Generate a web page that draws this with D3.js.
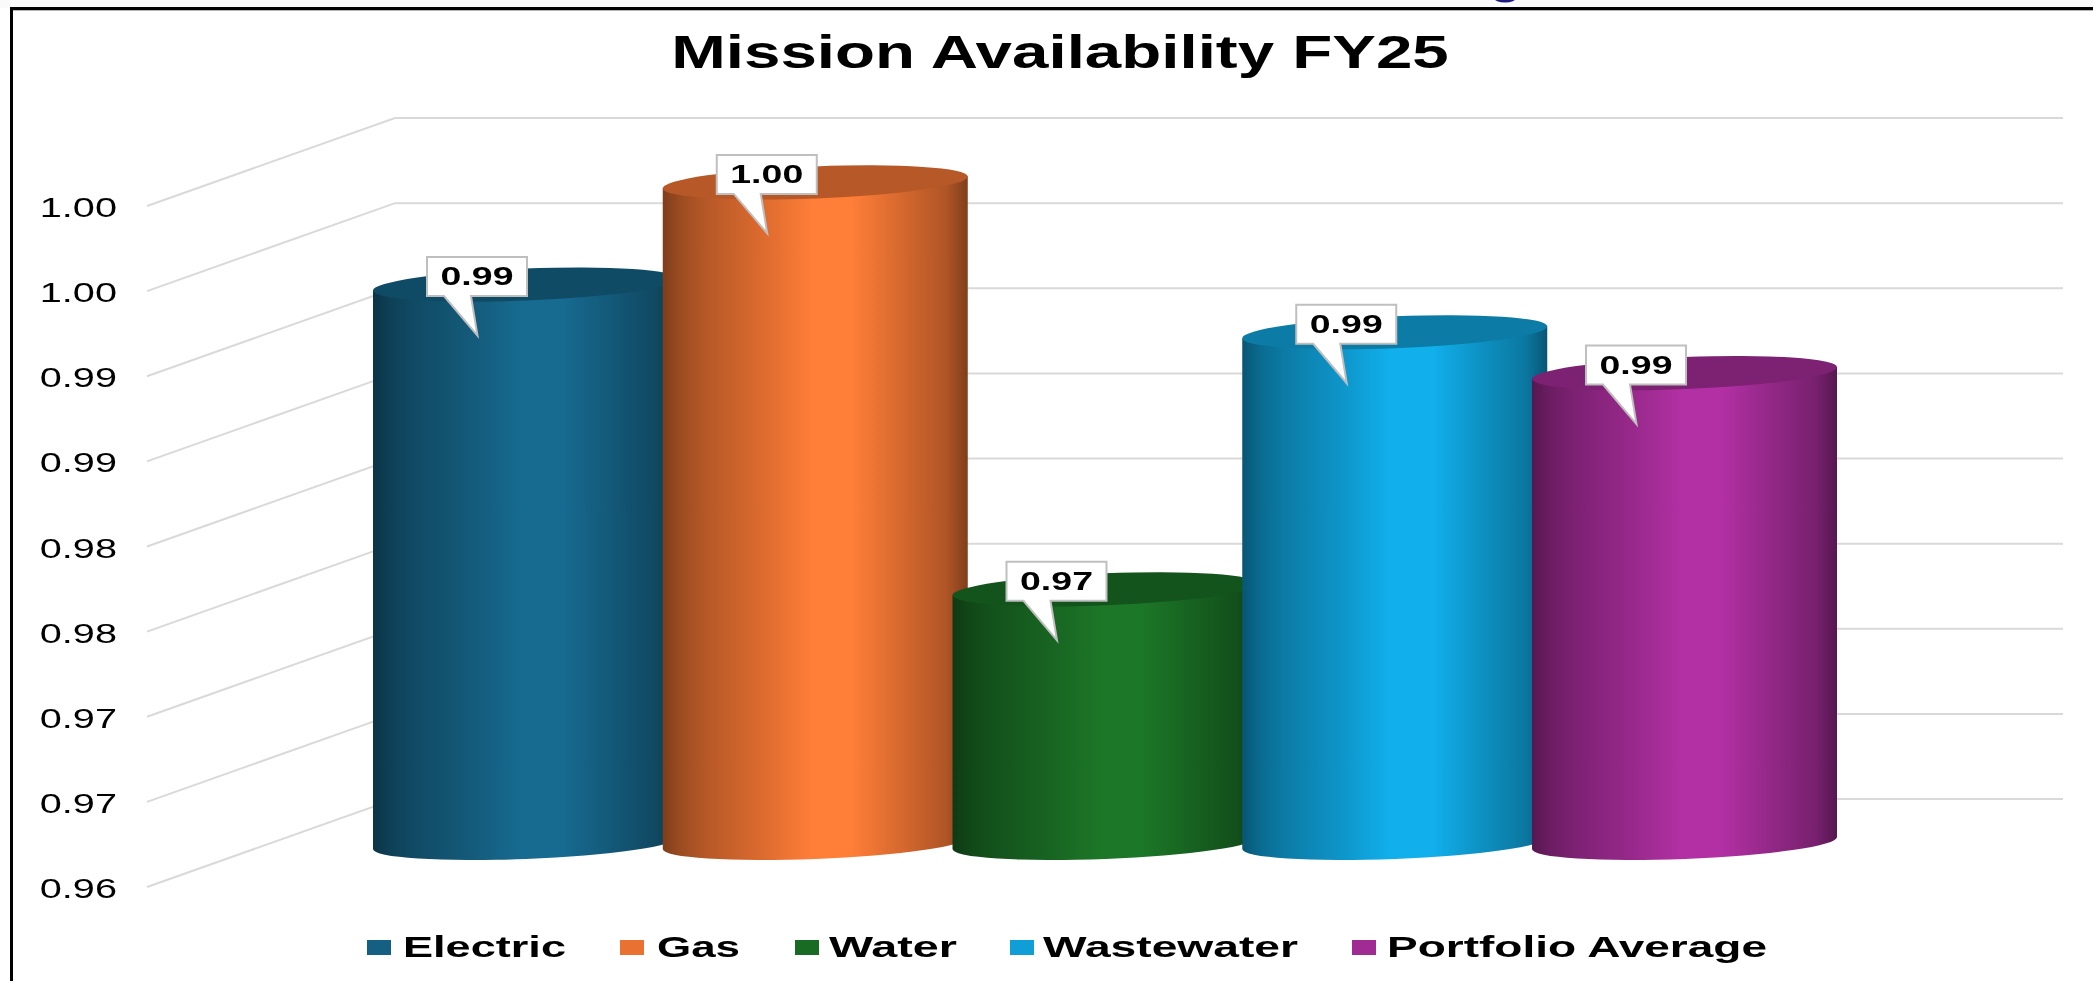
<!DOCTYPE html>
<html>
<head>
<meta charset="utf-8">
<title>Mission Availability FY25</title>
<script src="https://cdn.jsdelivr.net/npm/d3@7/dist/d3.min.js"></script>
<style>
    html, body { margin: 0; padding: 0; background: #ffffff; overflow: hidden; }
    svg { display: block; filter: blur(0.5px); }
    text { font-family: "Liberation Sans", Arial, sans-serif; fill: #000; }
</style>
</head>
<body>
<div id="chart"></div>
<script>
const categories = ["Electric", "Gas", "Water", "Wastewater", "Portfolio Average"];
const values = [0.9928, 0.9988, 0.9749, 0.99, 0.9876];
const valueLabels = ["0.99", "1.00", "0.97", "0.99", "0.99"];
const colors = ["#156082", "#E97132", "#196B24", "#0F9ED5", "#A02B93"];
const tickValues = [0.96, 0.965, 0.97, 0.975, 0.98, 0.985, 0.99, 0.995, 1.0];
const tickLabels = ["0.96", "0.97", "0.97", "0.98", "0.98", "0.99", "0.99", "1.00", "1.00"];
const legendSwatchX = [367, 620, 795, 1010, 1352];
const legendTextX = [403, 657, 829, 1043, 1387];
const legendTextWidths = [163, 83, 128, 255, 380];

const width = 2093, height = 981;
const stretch = 1.47; // the source picture is wider than it is tall, text included

const svg = d3.select("#chart").append("svg")
    .attr("width", width)
    .attr("height", height);

// band above the frame and the cut off heading letter
svg.append("rect").attr("width", width).attr("height", 8).attr("fill", "#fafafa");
svg.append("ellipse")
    .attr("cx", 1505).attr("cy", -2)
    .attr("rx", 11).attr("ry", 4.5)
    .attr("fill", "#1c1c80");

// frame runs off the right and bottom of the picture
svg.append("path")
    .attr("d", `M11.5,${height + 5} V8.5 H${width + 5}`)
    .attr("fill", "none")
    .attr("stroke", "#000")
    .attr("stroke-width", 3);
svg.append("line")
    .attr("x1", 13).attr("x2", width).attr("y1", 10.5).attr("y2", 10.5)
    .attr("stroke", "#b5b5b5");

// scales: front wall, back wall and the plane the cylinders stand in
const yFront = d3.scaleLinear().domain([0.96, 1.0]).range([887, 206]);
const yBack = d3.scaleLinear().domain([0.96, 1.0]).range([799, 118]);
const yMid = d3.scaleLinear().domain([0.96, 1.0]).range([843, 162]);
const x = d3.scalePoint().domain(categories).range([525.5, 1684.5]);
const wallFront = 147, wallBack = 395, gridEnd = 2063;

// grid
svg.append("g")
    .selectAll("path")
    .data(tickValues)
    .join("path")
    .attr("d", d => `M${wallFront},${yFront(d)} L${wallBack},${yBack(d)} H${gridEnd}`)
    .attr("fill", "none")
    .attr("stroke", "#d9d9d9")
    .attr("stroke-width", 2);

// y axis
const yAxis = svg.append("g")
    .attr("transform", "translate(117,0)")
    .call(d3.axisLeft(yFront)
        .tickValues(tickValues)
        .tickSize(0)
        .tickPadding(0)
        .tickFormat((d, i) => tickLabels[i]));
yAxis.select(".domain").remove();
yAxis.selectAll("text")
    .attr("x", 0)
    .attr("dy", "0.39em")
    .attr("font-size", 27)
    .attr("text-anchor", "end")
    .attr("transform", `scale(${stretch},1)`);

// title
svg.append("text")
    .attr("transform", "translate(1060,68) scale(1.424,1)")
    .attr("text-anchor", "middle")
    .attr("font-size", 46)
    .attr("font-weight", "bold")
    .text("Mission Availability FY25");

// cylinders
const barWidth = 305;
const tilt = -2.25; // degrees, the ellipses lean up to the right
const rx = barWidth / 2 / Math.cos(tilt * Math.PI / 180);
const ry = 16;
const lean = rx * Math.sin(tilt * Math.PI / 180);

const defs = svg.append("defs");
const shade = [[0, -1.7], [0.06, -1.1], [0.14, -0.7], [0.33, -0.15], [0.49, 0.3], [0.62, 0.3], [0.8, -0.3], [0.93, -0.8], [1, -1.7]];

categories.forEach((c, i) => {
    const grad = defs.append("linearGradient").attr("id", `body${i}`);
    shade.forEach(s => {
        grad.append("stop")
            .attr("offset", s[0])
            .attr("stop-color", s[1] < 0 ? d3.color(colors[i]).darker(-s[1]) : d3.color(colors[i]).brighter(s[1]));
    });
});

const bars = svg.append("g")
    .selectAll("g")
    .data(categories)
    .join("g")
    .attr("transform", d => `translate(${x(d)},0)`);

bars.append("path")
    .attr("d", (d, i) => {
        const top = yMid(values[i]), base = yMid(0.96), h = barWidth / 2;
        return `M${-h},${top - lean} L${-h},${base - lean}`
            + ` A${rx},${ry} ${tilt} 0 0 ${h},${base + lean}`
            + ` L${h},${top + lean} Z`;
    })
    .attr("fill", (d, i) => `url(#body${i})`);

bars.append("ellipse")
    .attr("rx", rx)
    .attr("ry", ry)
    .attr("transform", (d, i) => `translate(0,${yMid(values[i])}) rotate(${tilt})`)
    .attr("fill", (d, i) => d3.color(colors[i]).darker(0.7));

// value callouts, drawn after every cylinder
const callouts = svg.append("g")
    .selectAll("g")
    .data(categories)
    .join("g")
    .attr("transform", (d, i) => `translate(${x(d)},${yMid(values[i])})`);

callouts.append("path")
    .attr("d", "M-98.5,-27.5 H1.5 V11.5 H-54.5 L-48,51 L-81.5,11.5 H-98.5 Z")
    .attr("fill", "#fff")
    .attr("stroke", "#bfbfbf")
    .attr("stroke-width", 2);

callouts.append("text")
    .attr("transform", `translate(-48.5,0.5) scale(1.5,1)`)
    .attr("text-anchor", "middle")
    .attr("font-size", 25)
    .attr("font-weight", "bold")
    .text((d, i) => valueLabels[i]);

// legend
const legend = svg.append("g")
    .selectAll("g")
    .data(categories)
    .join("g");

legend.append("rect")
    .attr("x", (d, i) => legendSwatchX[i])
    .attr("y", 940)
    .attr("width", 24)
    .attr("height", 15)
    .attr("fill", (d, i) => colors[i]);

legend.append("text")
    .attr("x", (d, i) => legendTextX[i])
    .attr("y", 957)
    .attr("font-size", 30)
    .attr("font-weight", "bold")
    .attr("textLength", (d, i) => legendTextWidths[i])
    .attr("lengthAdjust", "spacingAndGlyphs")
    .text(d => d);
</script>
</body>
</html>
